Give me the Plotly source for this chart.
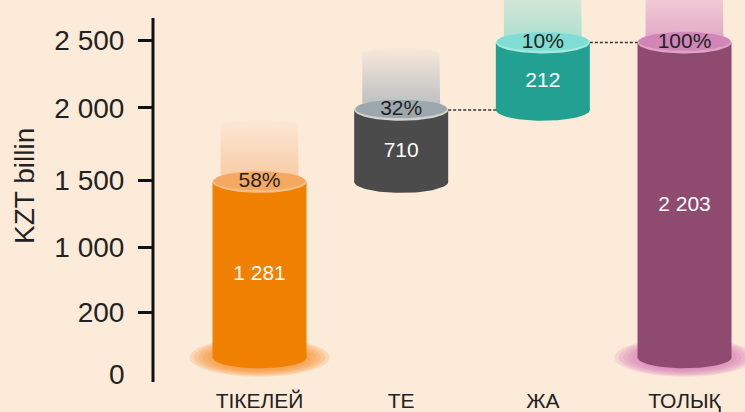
import numpy as np
import plotly.graph_objects as go

# ---------------- data ----------------
categories = ["ТІКЕЛЕЙ", "ТЕ", "ЖА", "ТОЛЫҚ"]
values = [1281, 710, 212, 2203]          # KZT billion
shares = [58, 32, 10, 100]               # % of total
measure = ["start", "step", "step", "total"]

# the drawn value axis is not linear: labels and where they sit on it
y_tick_labels = ["0", "200", "1 000", "1 500", "2 000", "2 500"]
y_tick_levels = [0.0, 0.92, 1.90, 2.90, 3.99, 5.00]
# level each cylinder reaches on that drawn axis
bar_top_level = [2.88, 3.96, 4.97, 4.97]
floor_level = 0.25

# ---------------- style ----------------
BG = "#FDEBDA"
FONT = "Liberation Sans, Arial, sans-serif"
body_colors = ["#F08000", "#4B4B4B", "#22A192", "#8F4A6F"]
cap_colors = ["#F4A862", "#9DA7AE", "#80DDD3", "#D086B6"]
rim_colors = ["#F8BE88", "#D2D3CC", "#A4E8DF", "#DFA3C8"]
fade_low = ["#F7C9A0", "#B7BCC0", "#A9DFD0", "#E2A4C6"]
fade_high = ["#FCE8D6", "#F8E8DA", "#E6EAD8", "#F6DCDC"]
glow_rgb = ["246,146,52", None, None, "214,128,182"]

BAR_W = 0.6635
RY = 0.164
FADE_W = 0.275
FADE_H = 0.84

xs = list(range(len(categories)))
bases = []
for i, m in enumerate(measure):
    bases.append(floor_level if m in ("start", "total") else bar_top_level[i - 1])
heights = [t - b for t, b in zip(bar_top_level, bases)]


def ellipse(cx, cy, rx, ry, t0=0.0, t1=2 * np.pi, n=90):
    t = np.linspace(t0, t1, n)
    return list(cx + rx * np.cos(t)), list(cy + ry * np.sin(t))


fig = go.Figure()

# glow under cylinders standing on the floor
shapes = []
for i, rgb in enumerate(glow_rgb):
    if rgb is None or bases[i] != floor_level:
        continue
    for k, s in enumerate(np.linspace(1.0, 0.62, 7)):
        shapes.append(dict(type="circle", xref="x", yref="y", layer="below",
                           x0=xs[i] - 0.494 * s, x1=xs[i] + 0.494 * s,
                           y0=floor_level - 0.29 * s, y1=floor_level + 0.29 * s,
                           fillcolor=f"rgba({rgb},0.22)", line=dict(width=0)))

# cylinder bodies
fig.add_trace(go.Bar(x=xs, y=heights, base=bases, width=BAR_W,
                     marker=dict(color=body_colors, line=dict(width=0)),
                     hoverinfo="skip", showlegend=False))

for i in xs:
    cx, top, base = xs[i], bar_top_level[i], bases[i]
    # bottom rim
    ex, ey = ellipse(cx, base, BAR_W / 2, RY)
    fig.add_trace(go.Scatter(x=ex, y=ey, fill="toself", mode="lines",
                             fillcolor=body_colors[i], line=dict(width=0),
                             hoverinfo="skip", showlegend=False))
    # fading glass column above
    capx, capy = ellipse(cx, top + FADE_H, FADE_W, 0.09, 0, np.pi)
    px = [cx + FADE_W, cx + FADE_W] + capx[1:-1] + [cx - FADE_W, cx - FADE_W]
    py = [top, top + FADE_H] + capy[1:-1] + [top + FADE_H, top]
    fig.add_trace(go.Scatter(x=px, y=py, fill="toself", mode="lines",
                             line=dict(width=0),
                             fillgradient=dict(type="vertical",
                                               colorscale=[[0, fade_low[i]], [1, fade_high[i]]],
                                               start=top, stop=top + FADE_H + 0.09),
                             hoverinfo="skip", showlegend=False))
    # top cap
    ex, ey = ellipse(cx, top, BAR_W / 2, RY)
    fig.add_trace(go.Scatter(x=ex, y=ey, fill="toself", mode="lines",
                             fillcolor=rim_colors[i], line=dict(width=0),
                             hoverinfo="skip", showlegend=False))
    ex, ey = ellipse(cx, top + 0.015, BAR_W / 2 * 0.975, RY * 0.86)
    fig.add_trace(go.Scatter(x=ex, y=ey, fill="toself", mode="lines",
                             fillcolor=cap_colors[i], line=dict(width=0),
                             hoverinfo="skip", showlegend=False))

# dotted connectors between floating steps
for i in range(1, len(xs) - 1):
    fig.add_trace(go.Scatter(x=[xs[i] + BAR_W / 2, xs[i + 1] - BAR_W / 2],
                             y=[bar_top_level[i], bar_top_level[i]], mode="lines",
                             line=dict(color="#333333", width=1.5, dash="3px,2px"),
                             hoverinfo="skip", showlegend=False))

# labels
fig.add_trace(go.Scatter(x=xs, y=bar_top_level, mode="text",
                         text=[f"{s}%" for s in shares],
                         textfont=dict(family=FONT, size=21, color="#222222"),
                         hoverinfo="skip", showlegend=False))
mid = [((t - RY) + b) / 2 for t, b in zip(bar_top_level, bases)]
fig.add_trace(go.Scatter(x=xs, y=mid, mode="text",
                         text=[f"{v:,}".replace(",", " ") for v in values],
                         textfont=dict(family=FONT, size=21, color="#FFFFFF"),
                         hoverinfo="skip", showlegend=False))

# value axis line
y_lo, y_hi = -0.119, 5.607
shapes.append(dict(type="line", xref="paper", yref="y", x0=0, x1=0,
                   y0=y_lo, y1=5.338, line=dict(color="#111111", width=3), layer="above"))

annotations = [
    dict(text=y_tick_labels[0], xref="paper", yref="y", x=0, y=y_tick_levels[0],
         xanchor="right", yanchor="middle", xshift=-26, showarrow=False,
         font=dict(family=FONT, size=28, color="#222222")),
    dict(text="KZT billin", xref="paper", yref="y", x=0, y=2.82, xshift=-128,
         xanchor="center", yanchor="middle", textangle=-90, showarrow=False,
         font=dict(family=FONT, size=28, color="#222222")),
]

fig.update_layout(
    width=745, height=412,
    margin=dict(l=153, r=0, t=0, b=28),
    paper_bgcolor=BG, plot_bgcolor=BG,
    barmode="overlay", showlegend=False,
    shapes=shapes, annotations=annotations,
    font=dict(family=FONT, color="#222222"),
    xaxis=dict(range=[-0.752, 3.427], tickvals=xs, ticktext=categories,
               showgrid=False, zeroline=False, showline=False, ticks="",
               ticklabelstandoff=4,
               tickfont=dict(size=21, color="#222222"), fixedrange=True),
    yaxis=dict(range=[y_lo, y_hi], tickvals=y_tick_levels[1:], ticktext=y_tick_labels[1:],
               showgrid=False, zeroline=False, showline=False,
               ticks="outside", ticklen=14, tickwidth=3, tickcolor="#111111",
               ticklabelstandoff=8,
               tickfont=dict(size=28, color="#222222"), fixedrange=True),
)

fig.write_html("out.html", config={"displayModeBar": False},
               post_script="document.body.style.margin='0';document.body.style.background='" + BG + "';")
